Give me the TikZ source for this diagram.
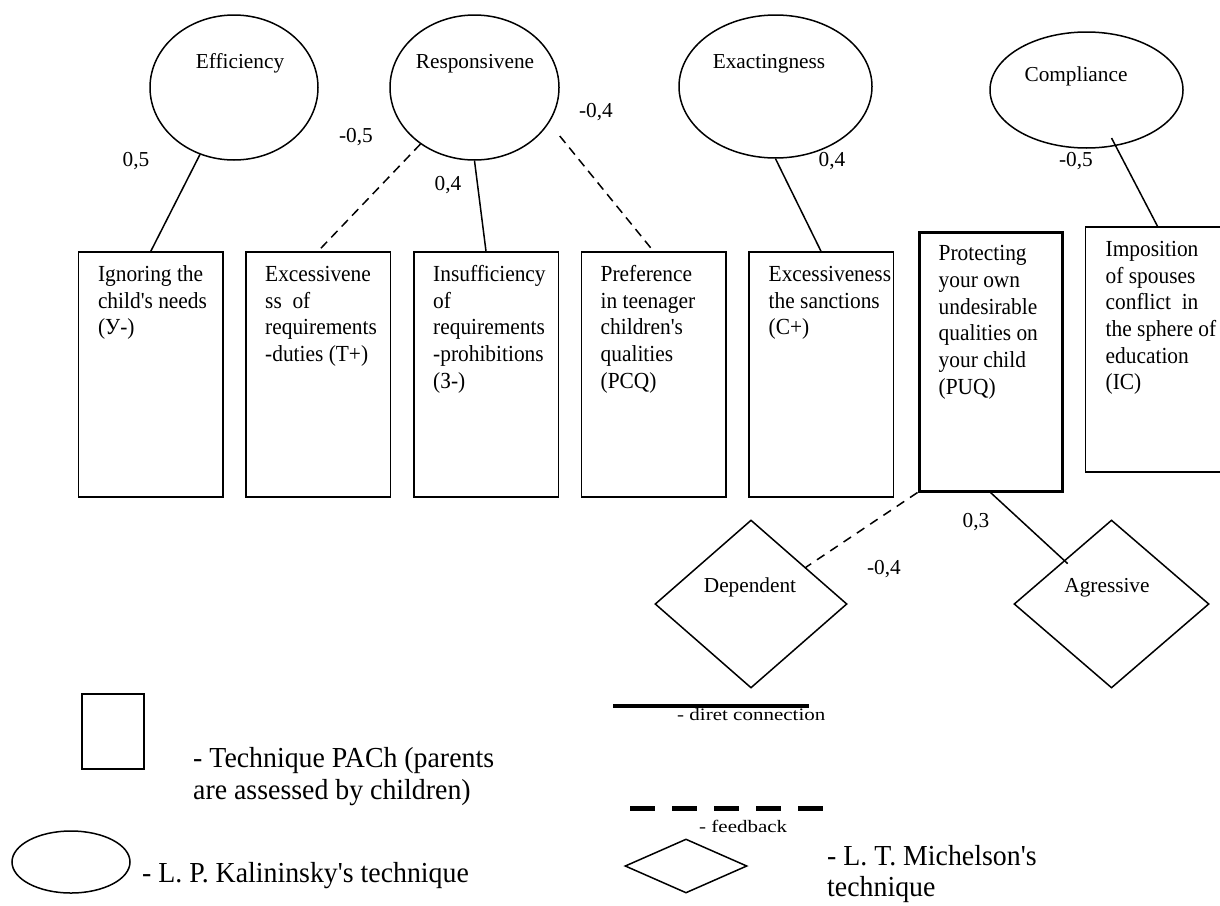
\documentclass[tikz,border=0pt]{standalone}
\usepackage{fontspec}
\setmainfont{Liberation Serif}[Ligatures=TeXOff]
\newfontfamily\bxfam{Liberation Serif}[FakeStretch=0.93]
\newfontfamily\lgfam{Liberation Serif}[FakeStretch=0.96]
\newfontfamily\smfam{Liberation Serif}[FakeStretch=1.2]
\newfontfamily\lbfam{Liberation Serif}
\usetikzlibrary{shapes.geometric,calc}
\newcommand\bxfont{\bxfam\fontsize{23}{26.7}\selectfont}
\newcommand\lbfont{\lbfam\fontsize{21.3}{26.7}\selectfont}
\newcommand\lgfont{\lgfam\fontsize{29}{32.5}\selectfont}
\newcommand\lgfontb{\lgfam\fontsize{29}{31}\selectfont}
\newcommand\smfont{\smfam\fontsize{17.5}{21}\selectfont}
\begin{document}
\begin{tikzpicture}[x=1pt,y=-1pt,
  ell/.style={draw, ellipse, line width=1.5pt, inner sep=0pt},
  box/.style={draw, rectangle, line width=1.5pt, inner sep=0pt, minimum width=144.5pt, minimum height=245pt},
  dia/.style={draw, diamond, line width=1.5pt, inner sep=0pt},
  btxt/.style={anchor=north west, inner sep=0pt, align=left, font=\bxfont},
  lbl/.style={anchor=base, inner sep=0pt, font=\lbfont},
  conn/.style={line width=1.5pt},
  fb/.style={line width=1.5pt, dash pattern=on 9pt off 6pt},
]
\clip (0,0) rectangle (1220,905);
\fill[white] (0,0) rectangle (1220,905);

% ellipses (L. P. Kalininsky)
\node[ell, minimum width=168pt, minimum height=145pt] (eff)   at (234,87.5)   {};
\node[ell, minimum width=169pt, minimum height=145pt] (resp)  at (474.5,87.5) {};
\node[ell, minimum width=193pt, minimum height=143pt] (exact) at (775.5,86.5) {};
\node[ell, minimum width=193pt, minimum height=116pt] (comp)  at (1086.5,90)  {};
\node[lbl] (efft)   at (240,68)  {Efficiency};
\node[lbl] (respt)  at (475,68)  {Responsivene};
\node[lbl] (exactt) at (769,68)  {Exactingness};
\node[lbl] (compt)  at (1076,81) {Compliance};

% boxes (PACh)
\node[box] (b1) at (150.8,374.5) {};
\node[box] (b2) at (318,374.5) {};
\node[box] (b3) at (486,374.5) {};
\node[box] (b4) at (653.5,374.5) {};
\node[box] (b5) at (821,374.5) {};
\node[box, line width=3pt, minimum width=143pt, minimum height=259pt] (b6) at (990.5,361.5) {};
\node[box] (b7) at (1157.5,349.5) {};

\node[btxt] (t1) at ($(b1.north west)+(20,11.3)$) {\strut Ignoring the\\child's needs\\(У-)};
\node[btxt] (t2) at ($(b2.north west)+(20,11.3)$) {\strut Excessivene\\ss~ of\\requirements\\-duties (Т+)};
\node[btxt] (t3) at ($(b3.north west)+(20,11.3)$) {\strut Insufficiency\\of\\requirements\\-prohibitions\\(З-)};
\node[btxt] (t4) at ($(b4.north west)+(20,11.3)$) {\strut Preference\\in teenager\\children's\\qualities\\(PCQ)};
\node[btxt] (t5) at ($(b5.north west)+(20.5,11.3)$) {\strut Excessiveness\\the sanctions\\(С+)};
\node[btxt] (t6) at ($(b6.north west)+(21,11.3)$) {\strut Protecting\\your own\\undesirable\\qualities on\\your child\\(PUQ)};
\node[btxt] (t7) at ($(b7.north west)+(21,11.3)$) {\strut Imposition\\of spouses\\conflict~ in\\the sphere of\\education\\(IC)};

% diamonds (L. T. Michelson)
\node[dia, minimum width=192pt, minimum height=168pt] (dep) at (751,604) {};
\node[dia, minimum width=195pt, minimum height=168pt] (agr) at (1111.5,604) {};
\node[lbl] (dept) at (750,592)  {Dependent};
\node[lbl] (agrt) at (1107,592) {Agressive};

% connectors
\draw[conn] (eff) -- (b1.north);
\draw[fb] (resp) -- (b2.north);
\draw[conn] (resp.south) -- (b3.north);
\coordinate (r4) at ($(resp.east)+(0,48.5)$);
\draw[fb] (r4) -- (b4.north);
\draw[conn] (exact.south) -- (b5.north);
\draw[conn, shorten <=-9pt] (comp) -- (b7.north);
\draw[fb, dash pattern=on 9pt off 7pt] (b6.south west) -- (dep);
\draw[conn, shorten >=-5pt] (b6.south) -- (agr);

% coefficients
\node[lbl] (c1) at (136,166) {0,5};
\node[lbl] (c2) at (356,142) {-0,5};
\node[lbl] (c3) at (448,190) {0,4};
\node[lbl] (c4) at (596,117) {-0,4};
\node[lbl] (c5) at (832,166) {0,4};
\node[lbl] (c6) at (1076,166) {-0,5};
\node[lbl] (c7) at (976,527) {0,3};
\node[lbl] (c8) at (884,574) {-0,4};

% legend
\node[draw, rectangle, line width=1.5pt, minimum width=62pt, minimum height=75pt, inner sep=0pt] (lrect) at (113,731.5) {};
\node[anchor=north west, inner sep=0pt, align=left, font=\lgfont] (lrectt) at (193,744.25) {\strut - Technique PACh (parents\\are assessed by children)};
\node[ell, minimum width=118pt, minimum height=62pt] (lell) at (71,862) {};
\node[anchor=base west, inner sep=0pt, font=\lgfont] (lellt) at (142,882) {- L. P. Kalininsky's technique};

\coordinate (ds) at (613,706);
\coordinate (de) at (809,706);
\draw[line width=3.5pt] (ds) -- (de);
\node[anchor=base west, inner sep=0pt, font=\smfont] (dt) at (677,720.5) {- diret connection};

\coordinate (fs) at (630,808);
\coordinate (fe) at (823,808);
\draw[line width=5pt, dash pattern=on 24.5pt off 17.5pt] (fs) -- (fe);
\node[anchor=base west, inner sep=0pt, font=\smfont] (ft) at (699,832) {- feedback};

\node[dia, minimum width=122pt, minimum height=54pt] (ldia) at (686,866) {};
\node[anchor=north west, inner sep=0pt, align=left, font=\lgfontb] (ldiat) at (827,843.3) {\strut - L. T. Michelson's\\technique};
\end{tikzpicture}
\end{document}
